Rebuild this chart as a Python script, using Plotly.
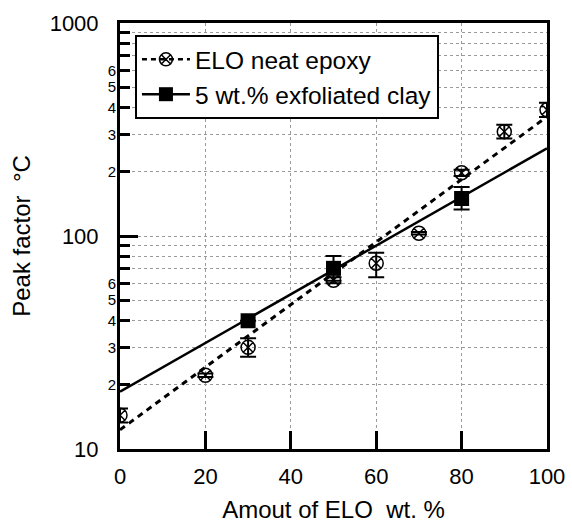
import plotly.graph_objects as go

# ---- data ----
neat_x = [0, 20, 30, 50, 60, 70, 80, 90, 100]
neat_y = [14.4, 22.2, 30.0, 62, 74.5, 103, 198, 309, 391]
neat_err_plus = [1.1, 0.4, 3.1, 2, 9, 1.5, 6.5, 24, 31]
neat_err_minus = [1.1, 0.4, 2.9, 2, 10.5, 1.5, 6.5, 22, 29]

clay_x = [30, 50, 80]
clay_y = [40, 70.5, 150]
clay_err_plus = [0, 10, 20]
clay_err_minus = [0, 8.8, 17]

fit_x = [0, 100]
neat_fit_y = [12.3, 363]
clay_fit_y = [18.6, 258]

x_ticks = [0, 20, 40, 60, 80, 100]
y_major = [10, 100, 1000]
y_minor = [2, 3, 4, 5, 6, 7, 8, 9, 20, 30, 40, 50, 60, 70, 80, 90, 200, 300, 400, 500, 600, 700, 800, 900]
y_minor_labelled = [2, 3, 4, 5, 6, 20, 30, 40, 50, 60, 200, 300, 400, 500, 600]
y_minor_text = ["2", "3", "4", "5", "6"] * 3

FONT = "Liberation Sans, Arial, Helvetica, sans-serif"
GRID = "#9a9a9a"

fig = go.Figure()

# fitted lines
fig.add_trace(go.Scatter(x=fit_x, y=neat_fit_y, mode="lines", showlegend=False,
                         line=dict(color="black", width=3, dash="6px,5px")))
fig.add_trace(go.Scatter(x=fit_x, y=clay_fit_y, mode="lines", showlegend=False,
                         line=dict(color="black", width=2.5)))

# data points
fig.add_trace(go.Scatter(
    x=neat_x, y=neat_y, mode="markers", showlegend=False,
    marker=dict(symbol="circle-x-open", size=14, color="black", line=dict(width=1.5, color="black")),
    error_y=dict(type="data", symmetric=False, array=neat_err_plus, arrayminus=neat_err_minus,
                 color="black", thickness=2, width=8)))
fig.add_trace(go.Scatter(
    x=clay_x, y=clay_y, mode="markers", showlegend=False,
    marker=dict(symbol="square", size=15, color="black"),
    error_y=dict(type="data", symmetric=False, array=clay_err_plus, arrayminus=clay_err_minus,
                 color="black", thickness=2, width=8)))

# legend entries
fig.add_trace(go.Scatter(
    x=[None], y=[None], mode="lines+markers", name="ELO neat epoxy",
    line=dict(color="black", width=2.5, dash="5px,4px"),
    marker=dict(symbol="circle-x-open", size=13, color="black", line=dict(width=1.5, color="black"))))
fig.add_trace(go.Scatter(
    x=[None], y=[None], mode="lines+markers", name="5 wt.% exfoliated clay",
    line=dict(color="black", width=2.5),
    marker=dict(symbol="square", size=14, color="black")))

fig.update_layout(
    width=572, height=523,
    margin=dict(l=120, r=25, t=23, b=74, autoexpand=False),
    paper_bgcolor="white", plot_bgcolor="white",
    font=dict(family=FONT, color="black"),
    showlegend=True,
    legend=dict(x=0.035, y=0.972, xanchor="left", yanchor="top",
                bgcolor="white", bordercolor="black", borderwidth=2,
                font=dict(size=24.5, family=FONT), itemwidth=48, tracegroupgap=0),
    xaxis=dict(range=[0, 100], tickvals=x_ticks, ticks="inside", ticklen=18, tickwidth=2.5,
               tickcolor="black", showline=True, linewidth=3, linecolor="black", mirror=True,
               showgrid=True, gridcolor=GRID, griddash="dot", gridwidth=1, zeroline=False,
               tickfont=dict(size=22), ticklabelstandoff=6, automargin=False,
               title=dict(text="Amout of ELO\u00a0 wt. %", font=dict(size=24), standoff=14)),
    yaxis=dict(type="log", range=[1, 3], tickvals=y_major, ticktext=["10", "100", "1000"],
               ticks="inside", ticklen=18, tickwidth=3, tickcolor="black",
               showline=True, linewidth=3, linecolor="black", mirror=True,
               showgrid=True, gridcolor=GRID, griddash="dot", gridwidth=1,
               tickfont=dict(size=22), ticklabelstandoff=14, automargin=False,
               minor=dict(tickvals=y_minor, ticks="inside", ticklen=10, tickwidth=2.5,
                          tickcolor="black", showgrid=True, gridcolor=GRID, griddash="dot", gridwidth=1),
               title=dict(text="Peak factor\u00a0 \u00b0C", font=dict(size=24), standoff=13)),
    yaxis2=dict(type="log", range=[1, 3], overlaying="y", side="left", anchor="x",
                tickvals=y_minor_labelled, ticktext=y_minor_text, ticks="",
                showgrid=False, showline=False, zeroline=False, automargin=False,
                tickfont=dict(size=15), ticklabelstandoff=3),
)

# bind an invisible trace to yaxis2 so it is drawn
fig.add_trace(go.Scatter(x=[None], y=[None], yaxis="y2", showlegend=False, hoverinfo="skip"))

fig.write_html("out.html", config={"displayModeBar": False},
               post_script="document.body.style.margin='0px';")
